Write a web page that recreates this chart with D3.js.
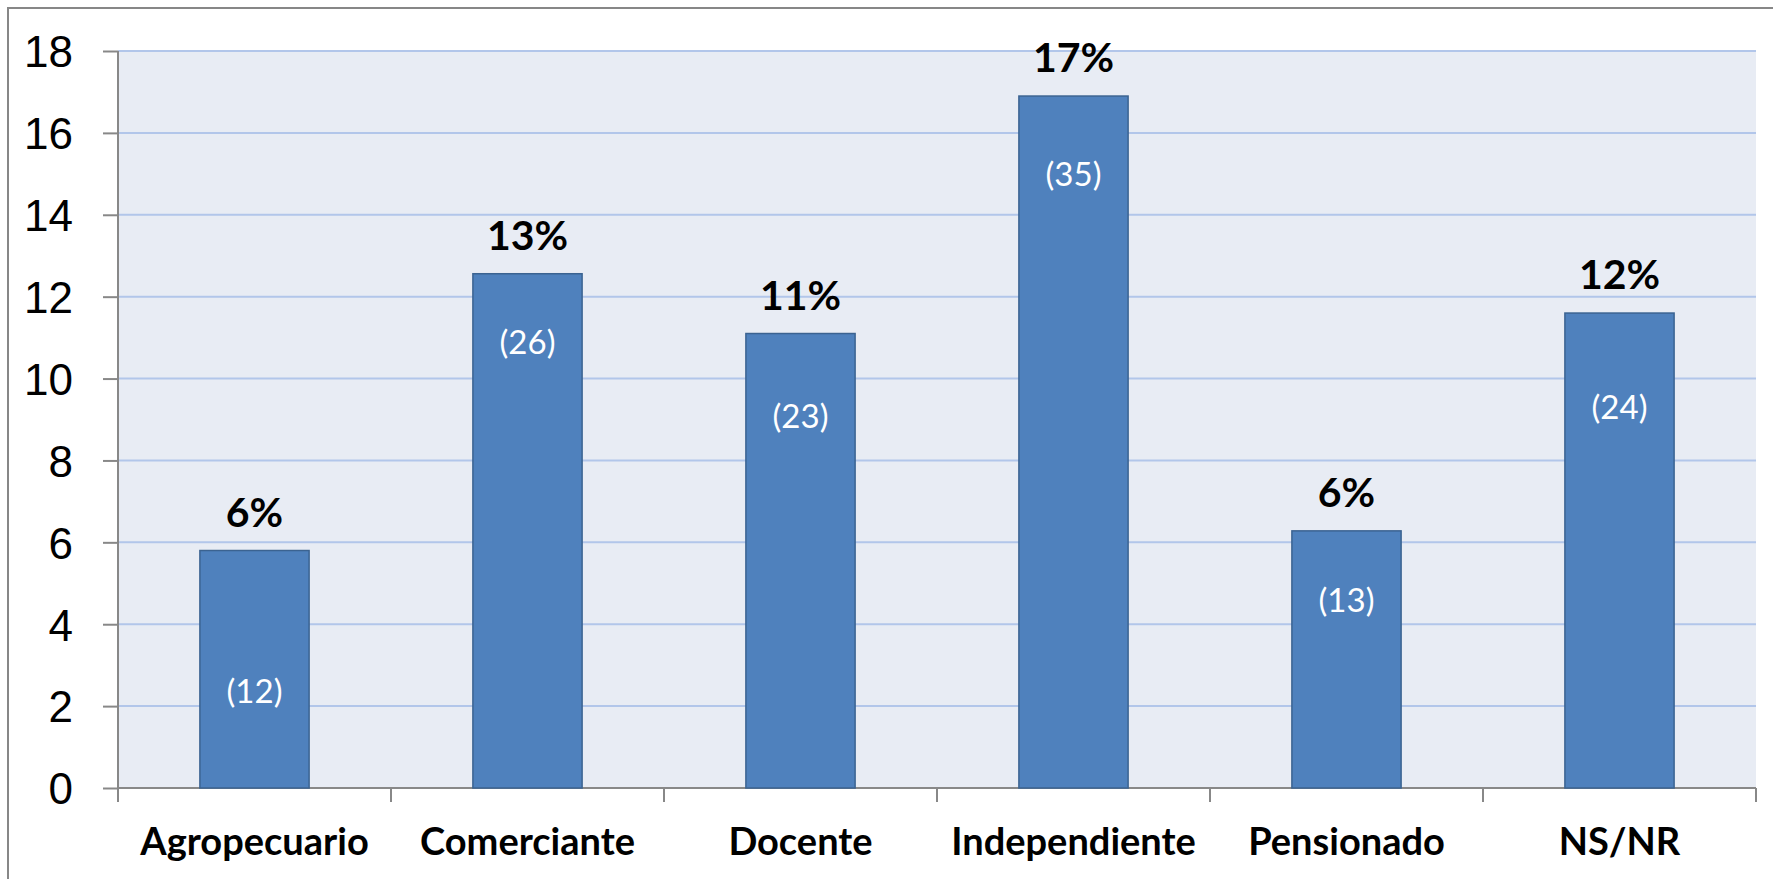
<!DOCTYPE html>
<html>
<head>
<meta charset="utf-8">
<script src="https://cdn.jsdelivr.net/npm/d3@7"></script>
<style>
  body { margin: 0; background: #fff; }
  svg { display: block; font-family: Lato, 'Open Sans', sans-serif; }
</style>
</head>
<body>
<svg id="chart" width="1773" height="879"></svg>
<script>
// data
let categories = ['Agropecuario', 'Comerciante', 'Docente', 'Independiente', 'Pensionado', 'NS/NR'];
let values = [5.8, 12.56, 11.1, 16.9, 6.28, 11.6];
let pctLabels = ['6%', '13%', '11%', '17%', '6%', '12%'];
let counts = [12, 26, 23, 35, 13, 24];
// where the "(n)" notes sit, in axis units
let countLabelAt = [2.37, 10.89, 9.09, 14.99, 4.59, 9.31];
let yTicks = [0, 2, 4, 6, 8, 10, 12, 14, 16, 18];

let svg = d3.select('#chart');
let plot = { left: 118, right: 1756, top: 51, bottom: 788 };

// outer frame
svg.append('rect')
  .attr('x', 8).attr('y', 8)
  .attr('width', 1800).attr('height', 900)
  .style('fill', '#fff')
  .style('stroke', '#878787')
  .style('stroke-width', 2);

let x = d3.scaleBand()
  .domain(categories)
  .range([plot.left, plot.right])
  .paddingInner(0.6)
  .paddingOuter(0.3);

let y = d3.scaleLinear()
  .domain([0, 18])
  .range([plot.bottom, plot.top]);

// plot background
svg.append('rect')
  .attr('x', plot.left).attr('y', plot.top)
  .attr('width', plot.right - plot.left).attr('height', plot.bottom - plot.top)
  .style('fill', '#E8ECF4');

// gridlines
svg.append('g')
  .selectAll('line')
  .data(yTicks.filter(d => d > 0))
  .enter().append('line')
  .attr('x1', plot.left).attr('x2', plot.right)
  .attr('y1', d => y(d)).attr('y2', d => y(d))
  .style('stroke', '#B2C6EA')
  .style('stroke-width', 2);

// y axis
let yAxis = svg.append('g')
  .attr('transform', 'translate(' + plot.left + ',0)')
  .call(d3.axisLeft(y).tickValues(yTicks).tickSize(15).tickPadding(30));
yAxis.select('.domain').attr('d', 'M0,' + plot.top + 'V' + (plot.bottom + 14))
  .style('stroke', '#888').style('stroke-width', 2);
yAxis.selectAll('.tick line').style('stroke', '#888').style('stroke-width', 2);
yAxis.selectAll('.tick text')
  .style('font-size', '44px')
  .style('fill', '#000')
  .attr('dy', '0.36em');

// x axis: ticks on band edges
let edges = categories.map(c => x(c) - x.step() * x.paddingInner() / 2);
edges.push(plot.right);
svg.append('line')
  .attr('x1', plot.left).attr('x2', plot.right)
  .attr('y1', plot.bottom).attr('y2', plot.bottom)
  .style('stroke', '#888').style('stroke-width', 2);
svg.append('g')
  .selectAll('line')
  .data(edges)
  .enter().append('line')
  .attr('x1', d => d).attr('x2', d => d)
  .attr('y1', plot.bottom).attr('y2', plot.bottom + 14)
  .style('stroke', '#888').style('stroke-width', 2);

svg.append('g')
  .selectAll('text')
  .data(categories)
  .enter().append('text')
  .attr('x', d => x(d) + x.bandwidth() / 2)
  .attr('y', 855)
  .style('text-anchor', 'middle')
  .style('font-size', '38px')
  .style('font-weight', 'bold')
  .text(d => d);

// bars
svg.append('g')
  .selectAll('rect')
  .data(values)
  .enter().append('rect')
  .attr('x', (d, i) => x(categories[i]))
  .attr('y', d => y(d))
  .attr('width', x.bandwidth())
  .attr('height', d => plot.bottom - y(d))
  .style('fill', '#4F81BD')
  .style('stroke', '#3B6391')
  .style('stroke-width', 1.5);

// percentage labels above bars
svg.append('g')
  .selectAll('text')
  .data(values)
  .enter().append('text')
  .attr('x', (d, i) => x(categories[i]) + x.bandwidth() / 2)
  .attr('y', d => y(d) - 24)
  .style('text-anchor', 'middle')
  .style('font-size', '41px')
  .style('font-weight', 'bold')
  .text((d, i) => pctLabels[i]);

// count labels inside bars
svg.append('g')
  .selectAll('text')
  .data(counts)
  .enter().append('text')
  .attr('x', (d, i) => x(categories[i]) + x.bandwidth() / 2)
  .attr('y', (d, i) => y(countLabelAt[i]))
  .attr('dy', '0.36em')
  .style('text-anchor', 'middle')
  .style('font-size', '33px')
  .style('fill', '#fff')
  .text(d => '(' + d + ')');
</script>
</body>
</html>
